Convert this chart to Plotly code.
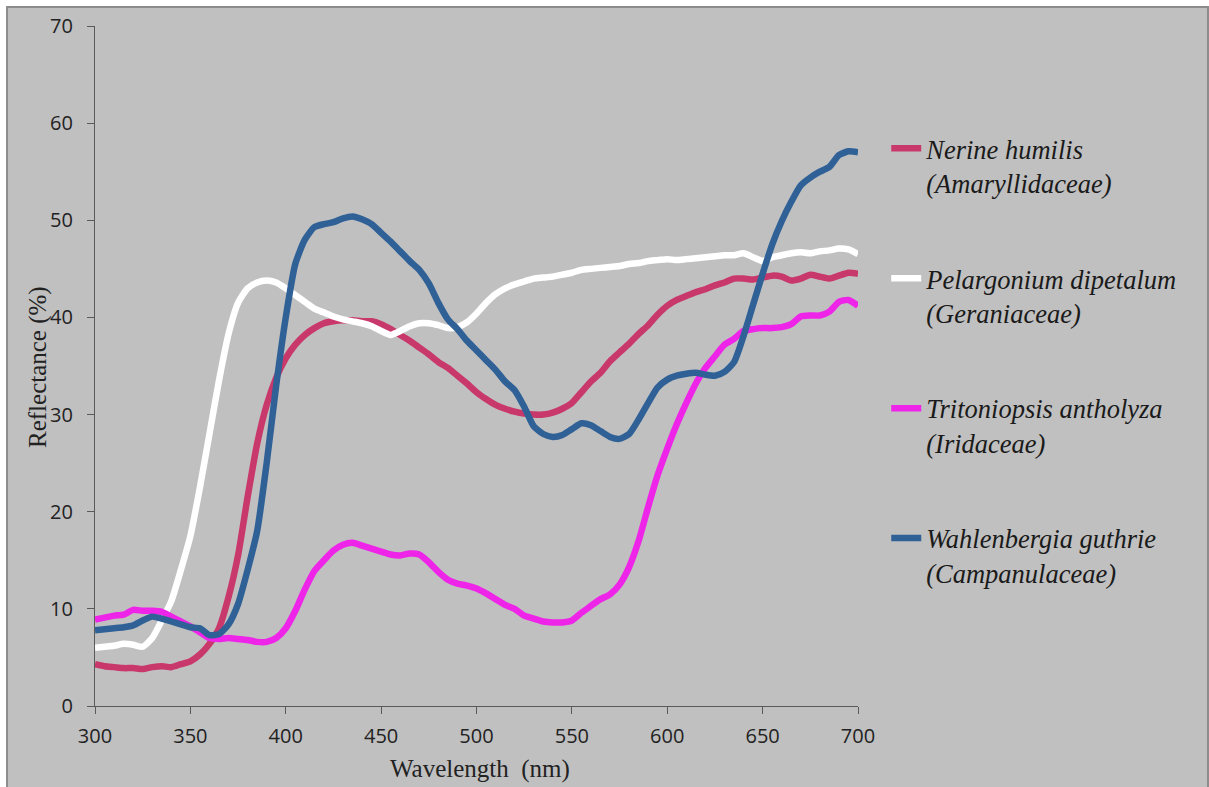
import plotly.graph_objects as go

# Spectral reflectance of four flowers, sampled every 5 nm
wavelength = list(range(300, 701, 5))

nerine = [
    4.3, 4.1, 4.0, 3.9, 3.9, 3.8, 4.0, 4.1, 4.0, 4.3,
    4.6, 5.3, 6.4, 8.0, 11.2, 15.5, 21.5, 27.0, 31.0, 33.8,
    35.8, 37.2, 38.2, 38.9, 39.4, 39.6, 39.7, 39.7, 39.6, 39.6,
    39.3, 38.8, 38.2, 37.6, 36.9, 36.2, 35.4, 34.8, 34.0, 33.2,
    32.3, 31.6, 31.0, 30.6, 30.3, 30.1, 30.0, 30.0, 30.2, 30.6,
    31.2, 32.3, 33.4, 34.3, 35.5, 36.4, 37.3, 38.3, 39.2, 40.3,
    41.2, 41.8, 42.2, 42.6, 42.9, 43.3, 43.6, 44.0, 44.0, 43.9,
    44.1, 44.3, 44.2, 43.8, 44.0, 44.4, 44.2, 44.0, 44.3, 44.6,
    44.5,
]

pelargonium = [
    6.0, 6.1, 6.2, 6.4, 6.3, 6.1, 7.0, 8.8, 10.8, 14.0,
    17.5, 22.5, 28.0, 33.5, 38.3, 41.5, 43.0, 43.6, 43.8, 43.6,
    43.0, 42.3, 41.6, 40.9, 40.5, 40.1, 39.8, 39.6, 39.4, 39.1,
    38.6, 38.2, 38.6, 39.1, 39.4, 39.4, 39.2, 38.9, 39.0, 39.5,
    40.4, 41.5, 42.4, 43.0, 43.4, 43.7, 44.0, 44.1, 44.2, 44.4,
    44.6, 44.9, 45.0, 45.1, 45.2, 45.3, 45.5, 45.6, 45.8, 45.9,
    46.0, 45.9, 46.0, 46.1, 46.2, 46.3, 46.4, 46.4, 46.6, 46.2,
    45.8, 46.2, 46.4, 46.6, 46.7, 46.6, 46.8, 46.9, 47.1, 47.0,
    46.5,
]

tritoniopsis = [
    8.9, 9.1, 9.3, 9.4, 9.9, 9.8, 9.8, 9.7, 9.2, 8.7,
    8.2, 7.6, 7.0, 6.9, 7.0, 6.9, 6.8, 6.6, 6.6, 7.0,
    8.0, 9.8, 12.0, 13.9, 15.0, 16.0, 16.6, 16.8, 16.5, 16.2,
    15.9, 15.6, 15.5, 15.7, 15.6, 14.8, 13.8, 13.0, 12.6, 12.4,
    12.1, 11.6, 11.0, 10.4, 10.0, 9.3, 9.0, 8.7, 8.6, 8.6,
    8.8, 9.6, 10.3, 11.0, 11.5, 12.5, 14.3, 17.0, 20.5, 23.8,
    26.5, 29.0, 31.2, 33.2, 34.8, 36.0, 37.2, 37.8, 38.6, 38.8,
    38.9, 38.9, 39.0, 39.3, 40.1, 40.2, 40.2, 40.6, 41.6, 41.8,
    41.2,
]

wahlenbergia = [
    7.8, 7.9, 8.0, 8.1, 8.3, 8.8, 9.2, 9.0, 8.7, 8.4,
    8.1, 8.0, 7.3, 7.4, 8.4, 10.5, 14.0, 18.0, 25.0, 33.0,
    40.0, 45.5, 48.0, 49.3, 49.6, 49.8, 50.2, 50.4, 50.1, 49.6,
    48.7, 47.8, 46.8, 45.8, 44.9, 43.5, 41.5, 39.8, 38.8, 37.6,
    36.6, 35.6, 34.6, 33.4, 32.5, 30.8, 28.8, 28.0, 27.7, 27.9,
    28.5, 29.1, 28.9, 28.3, 27.7, 27.5, 28.0, 29.5, 31.2, 32.8,
    33.6, 34.0, 34.2, 34.3, 34.1, 34.0, 34.4, 35.4, 38.1, 41.3,
    44.5, 47.5, 49.9, 51.9, 53.6, 54.4, 55.0, 55.5, 56.7, 57.1,
    57.0,
]

series_names = [
    "Nerine humilis<br>(Amaryllidaceae)",
    "Pelargonium dipetalum<br>(Geraniaceae)",
    "Tritoniopsis antholyza<br>(Iridaceae)",
    "Wahlenbergia guthrie<br>(Campanulaceae)",
]
series_values = [nerine, pelargonium, tritoniopsis, wahlenbergia]
series_colors = ["#C9386B", "#FFFFFF", "#EE24E8", "#2F6197"]

y_ticks = [0, 10, 20, 30, 40, 50, 60, 70]
x_ticks = [300, 350, 400, 450, 500, 550, 600, 650, 700]

fig = go.Figure()
for i, (name, vals, col) in enumerate(zip(series_names, series_values, series_colors)):
    label = "<br>".join(f"<i>{p}</i>" for p in name.split("<br>"))
    fig.add_trace(go.Scatter(
        x=wavelength, y=vals, mode="lines", name=label,
        legendgroup=f"g{i}",
        line=dict(color=col, width=6.5, shape="spline", smoothing=0.6),
    ))

# White-bordered gray card behind the whole chart
fig.add_shape(
    type="rect", xref="paper", yref="paper",
    x0=-0.1153, x1=1.4587, y0=-0.13, y1=1.0279,
    fillcolor="#C0C0C0", line=dict(color="#8C8C8C", width=2),
    layer="below",
)

axis_common = dict(
    showgrid=False, zeroline=False, showline=True,
    linecolor="#5A5A5A", linewidth=1.3,
    ticks="outside", tickcolor="#5A5A5A", ticklen=7, tickwidth=1.3,
    tickfont=dict(family="Open Sans", size=20, color="#222222"),
)

fig.update_xaxes(range=[300, 700], tickvals=x_ticks, ticklabelstandoff=5, **axis_common)
fig.update_yaxes(range=[0, 70], tickvals=y_ticks, ticklabelstandoff=10, **axis_common)

fig.add_annotation(
    text="Wavelength  (nm)", xref="paper", yref="paper",
    x=(480 - 95) / 763, y=(706 - 769) / 680, showarrow=False,
    font=dict(family="Liberation Serif", size=25, color="#222222"),
    xanchor="center", yanchor="middle",
)
fig.add_annotation(
    text="Reflectance (%)", xref="paper", yref="paper",
    x=(38 - 95) / 763, y=(706 - 367) / 680, showarrow=False, textangle=-90,
    font=dict(family="Liberation Serif", size=25, color="#222222"),
    xanchor="center", yanchor="middle",
)

fig.update_layout(
    width=1209, height=787,
    margin=dict(l=95, r=351, t=26, b=81),
    paper_bgcolor="#FFFFFF",
    plot_bgcolor="#C0C0C0",
    showlegend=True,
    legend=dict(
        x=1.037, y=0.855, xanchor="left", yanchor="top",
        bgcolor="rgba(0,0,0,0)", borderwidth=0,
        font=dict(family="Liberation Serif", size=26.5, color="#1A1A1A"),
        valign="top", tracegroupgap=58, itemwidth=30,
    ),
)

fig.write_html("out.html")
